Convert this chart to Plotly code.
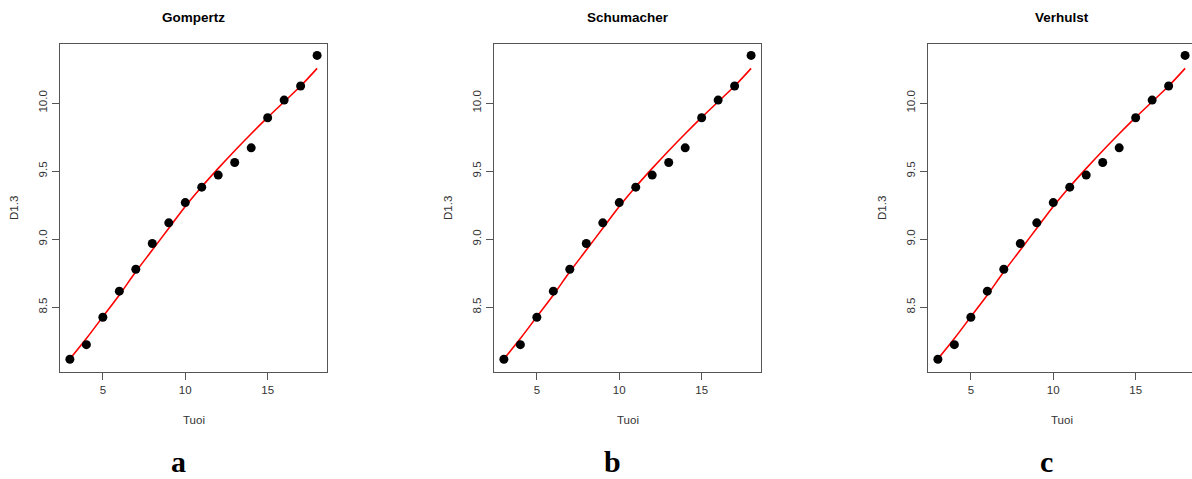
import plotly.graph_objects as go

tuoi = [3, 4, 5, 6, 7, 8, 9, 10, 11, 12, 13, 14, 15, 16, 17, 18]
d13 = [8.118, 8.225, 8.426, 8.618, 8.779, 8.968, 9.12, 9.269, 9.382, 9.471,
       9.563, 9.671, 9.892, 10.022, 10.125, 10.35]
fit_gompertz = [8.12, 8.27, 8.43, 8.59, 8.76, 8.92, 9.08, 9.24, 9.385, 9.52,
                9.65, 9.775, 9.895, 10.01, 10.125, 10.255]
fit_schumacher = [8.12, 8.27, 8.43, 8.59, 8.76, 8.92, 9.08, 9.24, 9.385, 9.52,
                  9.65, 9.775, 9.895, 10.01, 10.125, 10.255]
fit_verhulst = [8.12, 8.27, 8.43, 8.59, 8.76, 8.92, 9.08, 9.24, 9.385, 9.52,
                9.65, 9.775, 9.895, 10.01, 10.125, 10.255]
titles = ["Gompertz", "Schumacher", "Verhulst"]
letters = ["a", "b", "c"]
fits = [fit_gompertz, fit_schumacher, fit_verhulst]

W, H = 1192, 479
lefts = [60, 494, 928]
pw = 267
top, bottom = 44, 372
px_per_unit = 267 / (18.6 - 2.4)

FONT = "Liberation Sans, Arial, sans-serif"
fig = go.Figure()
layout = dict(
    width=W, height=H, margin=dict(l=0, r=0, t=0, b=0),
    paper_bgcolor="white", plot_bgcolor="white", showlegend=False,
    font=dict(family=FONT, color="#222", size=11),
)
annotations = []
for i in range(3):
    xa = "x" if i == 0 else f"x{i+1}"
    ya = "y" if i == 0 else f"y{i+1}"
    left = lefts[i]
    right = min(left + pw, W)
    xmax = 2.4 + (right - left) / px_per_unit
    fig.add_trace(go.Scatter(x=tuoi, y=fits[i], mode="lines",
                             line=dict(color="#ff0000", width=1.6, shape="spline"),
                             xaxis=xa, yaxis=ya, hoverinfo="skip"))
    fig.add_trace(go.Scatter(x=tuoi, y=d13, mode="markers",
                             marker=dict(color="black", size=9),
                             xaxis=xa, yaxis=ya))
    clipped = (left + pw) > W
    layout["xaxis" if i == 0 else f"xaxis{i+1}"] = dict(
        domain=[left / W, right / W], range=[2.4, xmax],
        tickvals=[5, 10, 15], ticks="outside", ticklen=7, tickcolor="#555",
        showline=True, linecolor="#555", linewidth=1, mirror=True,
        showgrid=False, zeroline=False, anchor=ya,
        tickfont=dict(size=11.5, color="#333"),
    )
    layout["yaxis" if i == 0 else f"yaxis{i+1}"] = dict(
        domain=[1 - bottom / H, 1 - top / H], range=[8.024, 10.434],
        tickvals=[8.5, 9.0, 9.5, 10.0], ticktext=["8.5", "9.0", "9.5", "10.0"],
        tickangle=-90, ticks="outside", ticklen=7, tickcolor="#555",
        showline=True, linecolor="#555", linewidth=1,
        mirror=(not clipped),
        showgrid=False, zeroline=False, anchor=xa,
        tickfont=dict(size=11.5, color="#333"),
    )
    cx = (left + pw / 2) / W
    annotations.append(dict(text="<b>" + titles[i] + "</b>", x=cx, y=1 - 17 / H,
                            xref="paper", yref="paper", showarrow=False,
                            xanchor="center", yanchor="middle",
                            font=dict(size=13.5, color="black", family=FONT)))
    annotations.append(dict(text="Tuoi", x=cx, y=1 - 420 / H,
                            xref="paper", yref="paper", showarrow=False,
                            xanchor="center", yanchor="middle",
                            font=dict(size=11.5, color="#333", family=FONT)))
    annotations.append(dict(text="D1.3", x=(left - 46) / W, y=1 - 208 / H,
                            xref="paper", yref="paper", showarrow=False,
                            xanchor="center", yanchor="middle", textangle=-90,
                            font=dict(size=11.5, color="#333", family=FONT)))
    annotations.append(dict(text="<b>" + letters[i] + "</b>", x=(left + 118) / W,
                            y=0, xref="paper", yref="paper", borderpad=0,
                            showarrow=False, xanchor="center", yanchor="bottom",
                            font=dict(size=30, color="black",
                                      family="Liberation Serif, Times New Roman, serif")))
layout["annotations"] = annotations
fig.update_layout(**layout)
fig.write_html("out.html")
